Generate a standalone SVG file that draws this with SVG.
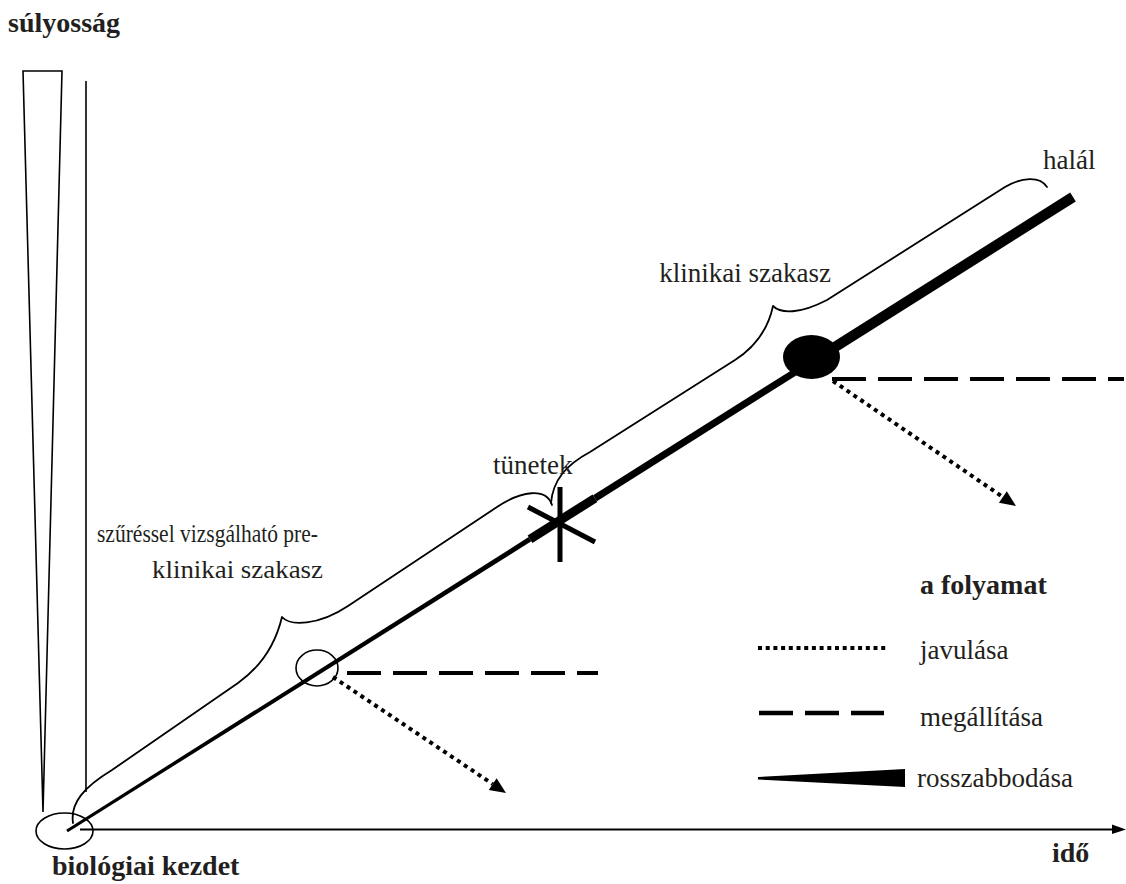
<svg xmlns="http://www.w3.org/2000/svg" width="1126" height="884" viewBox="0 0 1126 884">
  <style>
    .lbl { font-family: "Liberation Serif", "Times New Roman", serif; fill: #231f20; }
    .reg { font-size: 27px; }
    .bold { font-size: 28px; font-weight: bold; }
    .thin { fill: none; stroke: #000; stroke-width: 1.6; }
    .brace { fill: none; stroke: #000; stroke-width: 1.8; stroke-linecap: round; stroke-linejoin: round; }
    .dash { fill: none; stroke: #000; stroke-width: 4; stroke-dasharray: 34 12; }
    .dot { fill: none; stroke: #000; stroke-width: 4; stroke-dasharray: 4 4.3; }
    .main { stroke: #000; stroke-linecap: butt; }
  </style>

  <!-- axes -->
  <g id="axes">
    <polygon class="thin" points="23,71 62,71 43,812" stroke-width="2"/>
    <line x1="86" y1="81" x2="86" y2="792" stroke="#000" stroke-width="1.6"/>
    <line x1="80" y1="829.5" x2="1114" y2="829.5" stroke="#000" stroke-width="2"/>
    <polygon points="1112,824.5 1126,829.5 1112,834" fill="#000"/>
  </g>

  <!-- disease course line, thickening towards the end -->
  <g id="course">
    <polygon points="66.2,829.7 67.8,832.3 531.3,541.3 528.7,537.1" fill="#000"/>
    <line class="main" x1="530" y1="539.2" x2="595" y2="498.2" stroke-width="9"/>
    <line class="main" x1="595" y1="498.2" x2="811" y2="362.1" stroke-width="7"/>
    <line class="main" x1="811" y1="362.1" x2="1073" y2="197" stroke-width="10.5"/>
  </g>

  <!-- biological onset -->
  <g id="onset">
    <ellipse class="thin" cx="64.5" cy="831" rx="28.5" ry="18"/>
  </g>

  <!-- screening point -->
  <g id="screening">
    <ellipse class="thin" cx="317" cy="668" rx="21" ry="18"/>
  </g>

  <!-- symptoms star -->
  <g id="symptoms">
    <line x1="560" y1="487" x2="560" y2="562" stroke="#000" stroke-width="5"/>
    <line x1="528" y1="507" x2="595" y2="542" stroke="#000" stroke-width="5"/>
  </g>

  <!-- clinical diagnosis point -->
  <g id="diagnosis">
    <ellipse cx="811.5" cy="357" rx="28.5" ry="22" fill="#000"/>
  </g>

  <!-- braces over the phases -->
  <g id="braces">
    <path class="brace" d="M73,823 C70,803 84,787 112,770 L238,683 C262,666 276,642 282,617 C290,626 318,626 348,606 L497,507 C521,491 546,487 552,505"/>
    <path class="brace" d="M551,503 C553,480 566,465 590,452 L735,360 C755,347 768,330 773,306 C781,314 800,314 827,300 L1005,187 C1022,177 1040,176 1047,187"/>
  </g>

  <!-- outcome branches -->
  <g id="connectors">
    <line class="dash" x1="347" y1="673" x2="598" y2="673"/>
    <line class="dot" x1="333" y1="677" x2="492.7" y2="784.1"/>
    <polygon points="506,793 488.8,789.9 496.6,778.3" fill="#000"/>

    <line class="dash" x1="832" y1="379" x2="1124" y2="379"/>
    <line class="dot" x1="833" y1="381" x2="1002.8" y2="497"/>
    <polygon points="1016,506 998.9,502.8 1006.8,491.2" fill="#000"/>
  </g>

  <!-- legend -->
  <g id="legend">
    <text class="lbl bold" x="920" y="594">a folyamat</text>
    <line x1="758" y1="648" x2="886" y2="648" stroke="#000" stroke-width="4" stroke-dasharray="4 3.7"/>
    <text class="lbl reg" x="920" y="659">javulása</text>
    <line x1="759" y1="713" x2="884" y2="713" stroke="#000" stroke-width="4.5" stroke-dasharray="34 12"/>
    <text class="lbl reg" x="920" y="726">megállítása</text>
    <polygon points="758,777 905,769 905,787 758,779.5" fill="#000"/>
    <text class="lbl reg" x="917" y="787">rosszabbodása</text>
  </g>

  <!-- labels -->
  <g id="labels">
    <text class="lbl bold" x="8" y="32">súlyosság</text>
    <text class="lbl bold" x="52" y="875">biológiai kezdet</text>
    <text class="lbl bold" x="1052" y="862">idő</text>
    <text class="lbl reg" x="1043" y="169" font-size="26">halál</text>
    <text class="lbl reg" x="831" y="282" text-anchor="end">klinikai szakasz</text>
    <text class="lbl reg" x="493" y="474">tünetek</text>
    <text class="lbl" x="97" y="542" font-size="25" textLength="221" lengthAdjust="spacingAndGlyphs">szűréssel vizsgálható pre-</text>
    <text class="lbl" x="152" y="578" font-size="26" textLength="171" lengthAdjust="spacingAndGlyphs">klinikai szakasz</text>
  </g>
</svg>
